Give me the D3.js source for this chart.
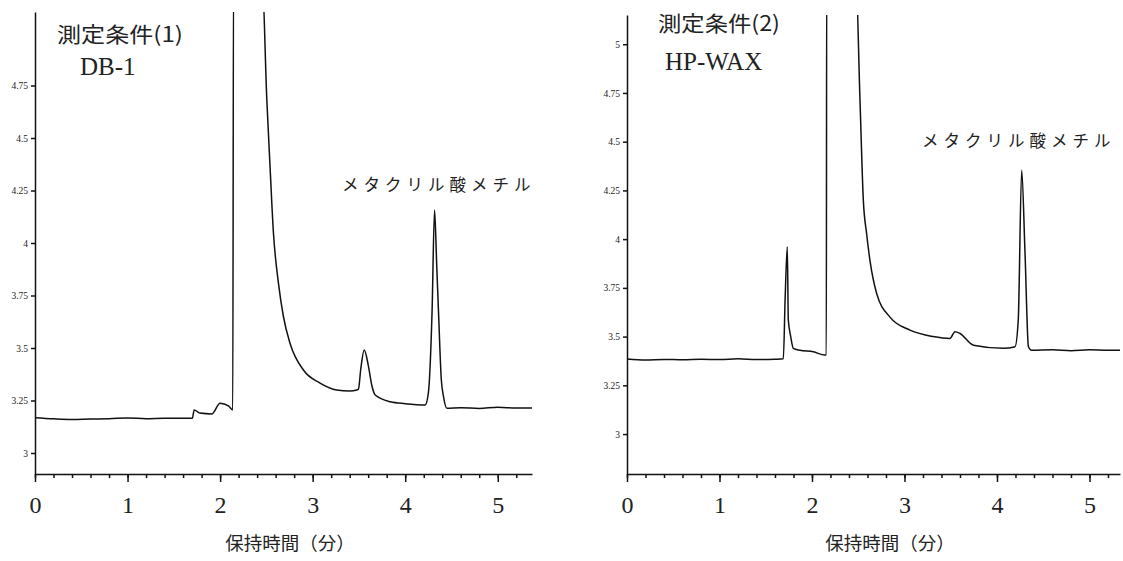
<!DOCTYPE html>
<html>
<head>
<meta charset="utf-8">
<script src="https://cdn.jsdelivr.net/npm/d3@7"></script>
<style>
  body { margin: 0; background: #fff; }
  svg { display: block; }
  .curve { fill: none; stroke: #111; stroke-width: 1.5; stroke-linejoin: round; }
  .axis path, .axis line { stroke: #111; stroke-width: 1.5; }
  .yaxis text { font-family: "Liberation Serif", serif; font-size: 9.5px; fill: #222; }
  .xaxis text { font-family: "Liberation Serif", serif; font-size: 24px; fill: #222; }
  .jp { font-family: "Noto Sans CJK JP", sans-serif; fill: #222; }
  .serif { font-family: "Liberation Serif", serif; fill: #222; }
</style>
</head>
<body>
<div id="chart"></div>
<script>
// retention time (min) and detector signal
// values above the top of the frame are off-scale peaks, they get clipped
const dbTime = [0, 0.2, 0.4, 0.6, 0.8, 1.0, 1.2, 1.4, 1.6, 1.70, 1.72, 1.78, 1.91, 2.0, 2.09, 2.137,
    2.145, 2.45, 2.505, 2.54, 2.576, 2.63, 2.684, 2.757, 2.90, 3.08, 3.26, 3.40, 3.478, 3.495,
    3.52, 3.557, 3.60, 3.64, 3.676, 3.84, 4.0, 4.216, 4.25, 4.29, 4.317, 4.34, 4.36, 4.39, 4.414,
    4.45, 4.6, 4.8, 5.0, 5.2, 5.37];
const dbSignal = [3.168, 3.163, 3.160, 3.162, 3.163, 3.167, 3.163, 3.166, 3.165, 3.165, 3.205, 3.19, 3.186, 3.237, 3.224, 3.205,
    5.3, 5.3, 4.68, 4.36, 4.05, 3.81, 3.65, 3.52, 3.395, 3.333, 3.30, 3.295, 3.30, 3.305,
    3.40, 3.49, 3.42, 3.32, 3.276, 3.244, 3.235, 3.229, 3.285, 3.67, 4.157, 3.9, 3.67, 3.35, 3.268,
    3.213, 3.216, 3.212, 3.218, 3.214, 3.214];

const waxTime = [0, 0.2, 0.4, 0.6, 0.8, 1.0, 1.2, 1.4, 1.6, 1.69, 1.71, 1.733, 1.744, 1.77, 1.798, 1.87,
    2.014, 2.14, 2.155, 2.159, 2.47, 2.519, 2.555, 2.59, 2.627, 2.7, 2.843, 3.06, 3.31, 3.49, 3.546,
    3.6, 3.745, 4.07, 4.195, 4.23, 4.267, 4.303, 4.34, 4.375, 4.6, 4.8, 5.0, 5.2, 5.33];
const waxSignal = [3.385, 3.380, 3.383, 3.381, 3.384, 3.382, 3.386, 3.382, 3.384, 3.386, 3.70, 3.96, 3.585, 3.50, 3.44, 3.43,
    3.422, 3.405, 3.405, 5.4, 5.4, 4.713, 4.20, 4.03, 3.89, 3.72, 3.60, 3.533, 3.50, 3.49, 3.525,
    3.516, 3.456, 3.44, 3.448, 3.585, 4.354, 3.93, 3.448, 3.43, 3.432, 3.428, 3.433, 3.43, 3.43];

const dbTicks = [3, 3.25, 3.5, 3.75, 4, 4.25, 4.5, 4.75];
const waxTicks = [3, 3.25, 3.5, 3.75, 4, 4.25, 4.5, 4.75, 5];
const timeTicks = [0, 1, 2, 3, 4, 5];

const xTitle = '保持時間（分）';
const compound = 'メタクリル酸メチル';

const width = 1123;
const height = 561;

const svg = d3.select('#chart')
    .append('svg')
    .attr('width', width)
    .attr('height', height);

// one panel = one chromatogram with its own frame
function drawPanel(opts) {
    const { id, time, signal, yTicks, xDomain, yDomain, left, right, top, bottom } = opts;

    const x = d3.scaleLinear().domain(xDomain).range([left, right]);
    const y = d3.scaleLinear().domain(yDomain).range([bottom, top]);

    const g = svg.append('g');

    g.append('clipPath')
        .attr('id', 'clip-' + id)
        .append('rect')
        .attr('x', left)
        .attr('y', top)
        .attr('width', right - left)
        .attr('height', bottom - top);

    const points = time.map((t, i) => [t, signal[i]]);
    const line = d3.line()
        .curve(d3.curveMonotoneX)
        .x((d) => x(d[0]))
        .y((d) => y(d[1]));

    g.append('path')
        .datum(points)
        .attr('class', 'curve')
        .attr('clip-path', `url(#clip-${id})`)
        .attr('d', line);

    // minor ticks every 0.2 min
    g.append('g')
        .attr('class', 'axis')
        .attr('transform', `translate(0,${bottom})`)
        .call(d3.axisBottom(x).tickValues(d3.range(0, xDomain[1], 0.2)).tickSize(4).tickFormat(''))
        .call((s) => s.select('.domain').remove());

    // main x axis
    g.append('g')
        .attr('class', 'axis xaxis')
        .attr('transform', `translate(0,${bottom})`)
        .call(d3.axisBottom(x).tickValues(timeTicks).tickSize(8).tickSizeOuter(0).tickPadding(14)
            .tickFormat(d3.format('d')));

    g.append('g')
        .attr('class', 'axis yaxis')
        .attr('transform', `translate(${left},0)`)
        .call(d3.axisLeft(y).tickValues(yTicks).tickSize(4).tickSizeOuter(0).tickPadding(3)
            .tickFormat((d) => String(d)));

    return { x, y, g };
}

const db = drawPanel({
    id: 'db', time: dbTime, signal: dbSignal, yTicks: dbTicks,
    xDomain: [0, 5.37], yDomain: [2.9, 5.1],
    left: 35, right: 532, top: 12, bottom: 474,
});

const wax = drawPanel({
    id: 'wax', time: waxTime, signal: waxSignal, yTicks: waxTicks,
    xDomain: [0, 5.33], yDomain: [2.795, 5.15],
    left: 627, right: 1120, top: 15, bottom: 474,
});

// annotations
db.g.append('text').attr('class', 'jp')
    .attr('x', 57).attr('y', 42).attr('font-size', 21)
    .attr('textLength', 126).attr('lengthAdjust', 'spacingAndGlyphs')
    .text('測定条件(1)');
db.g.append('text').attr('class', 'serif')
    .attr('x', 80).attr('y', 75).attr('font-size', 25)
    .text('DB-1');
db.g.append('text').attr('class', 'jp')
    .attr('x', 342).attr('y', 191).attr('font-size', 16.5)
    .attr('letter-spacing', 5)
    .text(compound);
db.g.append('text').attr('class', 'jp')
    .attr('x', 290).attr('y', 550).attr('font-size', 18.5)
    .attr('text-anchor', 'middle')
    .text(xTitle);

wax.g.append('text').attr('class', 'jp')
    .attr('x', 658).attr('y', 31).attr('font-size', 21)
    .attr('textLength', 122).attr('lengthAdjust', 'spacingAndGlyphs')
    .text('測定条件(2)');
wax.g.append('text').attr('class', 'serif')
    .attr('x', 665).attr('y', 70).attr('font-size', 25)
    .text('HP-WAX');
wax.g.append('text').attr('class', 'jp')
    .attr('x', 922).attr('y', 147).attr('font-size', 16.5)
    .attr('letter-spacing', 5)
    .text(compound);
wax.g.append('text').attr('class', 'jp')
    .attr('x', 890).attr('y', 550).attr('font-size', 18.5)
    .attr('text-anchor', 'middle')
    .text(xTitle);
</script>
</body>
</html>
